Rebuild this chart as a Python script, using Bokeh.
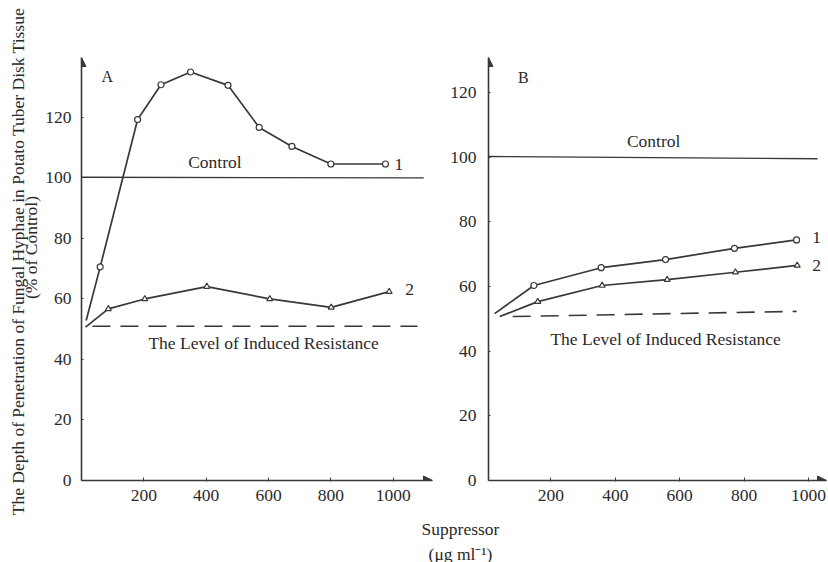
import math
from bokeh.plotting import figure
from bokeh.layouts import column, row
from bokeh.models import Label, Arrow, NormalHead, Range1d
from bokeh.embed import file_html
from bokeh.resources import INLINE

# ---------------- data ----------------
x_ticks = [200, 400, 600, 800, 1000]
y_ticks = [0, 20, 40, 60, 80, 100, 120]

# Panel A
a_curve1_x = [15, 60, 180, 255, 350, 470, 570, 675, 800, 975]
a_curve1_y = [52.9, 70.6, 119.3, 130.8, 135.0, 130.6, 116.7, 110.4, 104.6, 104.6]
a_curve2_x = [13, 86, 203, 402, 604, 801, 987]
a_curve2_y = [50.7, 56.7, 60.0, 64.1, 60.0, 57.2, 62.4]
a_control_x = [0, 1098]
a_control_y = [100.2, 100.0]
a_induced_x = [35, 1078]
a_induced_y = [51.0, 51.0]

# Panel B
b_curve1_x = [25, 147, 356, 556, 770, 963]
b_curve1_y = [51.6, 60.3, 65.8, 68.3, 71.8, 74.4]
b_curve2_x = [41, 159, 359, 561, 773, 965]
b_curve2_y = [50.7, 55.3, 60.3, 62.1, 64.4, 66.5]
b_control_x = [6, 1028]
b_control_y = [100.2, 99.5]
b_induced_x = [81, 963]
b_induced_y = [50.7, 52.3]

y_title = "The Depth of Penetration of Fungal Hyphae in Potato Tuber Disk Tissue"
y_subtitle = "(% of Control)"
x_title = "Suppressor"
x_units_title = "(μg ml⁻¹)"

INK = "#383838"
TXT = "#2a2a2a"
FONT = "Liberation Serif"
FS = "17.5px"


def blank(p):
    p.grid.visible = False
    p.outline_line_color = None
    p.background_fill_color = "white"
    p.border_fill_color = "white"


def style(p, x_end, y_end, x0):
    blank(p)
    for ax in (p.xaxis, p.yaxis):
        ax.axis_line_color = INK
        ax.axis_line_width = 1.6
        ax.major_tick_line_color = INK
        ax.minor_tick_line_color = None
        ax.major_label_text_font = FONT
        ax.major_label_text_font_size = FS
        ax.major_label_text_color = TXT
    p.xaxis.ticker = x_ticks
    p.yaxis.ticker = y_ticks
    p.xaxis.major_tick_in = 3
    p.xaxis.major_tick_out = 1
    p.xaxis.major_label_standoff = 8
    p.yaxis.major_tick_in = 2
    p.yaxis.major_tick_out = 0
    head = dict(size=9, fill_color=INK, line_color=INK)
    p.add_layout(Arrow(end=NormalHead(**head), x_start=x0, y_start=0,
                       x_end=x0, y_end=y_end, line_alpha=0))
    p.add_layout(Arrow(end=NormalHead(**head), x_start=x0, y_start=0,
                       x_end=x_end, y_end=0, line_alpha=0))


def label(p, x, y, text, size=FS, units="data", angle=0.0):
    p.add_layout(Label(x=x, y=y, text=text, text_align="center",
                       text_baseline="middle", text_font=FONT, angle=angle,
                       x_units=units, y_units=units,
                       text_font_size=size, text_color=TXT))


def curves(p, c1x, c1y, c2x, c2y, cx, cy, ix, iy):
    p.line(cx, cy, line_color=INK, line_width=1.4)
    p.line(ix, iy, line_color=INK, line_width=1.6, line_dash="18 10")
    p.line(c1x, c1y, line_color=INK, line_width=1.7)
    p.scatter(c1x[1:], c1y[1:], marker="circle", size=6, fill_color="white",
              line_color=INK, line_width=1.2)
    p.line(c2x, c2y, line_color=INK, line_width=1.7)
    p.scatter(c2x[1:], c2y[1:], marker="triangle", size=6, fill_color="white",
              line_color=INK, line_width=1.2)


# ---------------- y-axis title strip ----------------
py = figure(width=42, height=562, x_range=Range1d(0, 42), y_range=Range1d(0, 562),
            x_axis_location=None, y_axis_location=None, min_border=0,
            toolbar_location=None, output_backend="svg")
blank(py)
label(py, 17, 301, y_title, units="screen", angle=math.pi / 2)
label(py, 30, 315, y_subtitle, units="screen", angle=math.pi / 2)

# ---------------- panel A ----------------
pa = figure(width=398, height=510, x_range=Range1d(0, 1126), y_range=Range1d(0, 139.8),
            min_border_left=37, min_border_right=8, min_border_top=28, min_border_bottom=30,
            toolbar_location=None, output_backend="svg")
style(pa, 1126, 139.8, 0)
pa.yaxis.major_label_standoff = 10
curves(pa, a_curve1_x, a_curve1_y, a_curve2_x, a_curve2_y,
       a_control_x, a_control_y, a_induced_x, a_induced_y)
label(pa, 83, 133.4, "A", size="16px")
label(pa, 428, 105.4, "Control")
label(pa, 1018, 104.5, "1")
label(pa, 1053, 63.0, "2")
label(pa, 584, 45.5, "The Level of Induced Resistance")

# ---------------- panel B ----------------
pb = figure(width=388, height=510, x_range=Range1d(6, 1056), y_range=Range1d(0, 130.8),
            min_border_left=48, min_border_right=2, min_border_top=57, min_border_bottom=30,
            toolbar_location=None, output_backend="svg")
style(pb, 1056, 130.8, 6)
pb.yaxis.major_label_standoff = 12
curves(pb, b_curve1_x, b_curve1_y, b_curve2_x, b_curve2_y,
       b_control_x, b_control_y, b_induced_x, b_induced_y)
label(pb, 114, 124.6, "B", size="16px")
label(pb, 519, 105.1, "Control")
label(pb, 1025, 75.1, "1")
label(pb, 1025, 66.5, "2")
label(pb, 556, 43.9, "The Level of Induced Resistance")

# ---------------- x-axis title strip ----------------
ps = figure(width=786, height=52, x_range=Range1d(0, 786), y_range=Range1d(0, 52),
            x_axis_location=None, y_axis_location=None, min_border=0,
            toolbar_location=None, output_backend="svg")
blank(ps)
label(ps, 418, 34, x_title, units="screen")
label(ps, 418, 9, x_units_title, units="screen")

layout = row(py, column(row(pa, pb), ps))
open("out.html", "w").write(file_html(layout, INLINE))
